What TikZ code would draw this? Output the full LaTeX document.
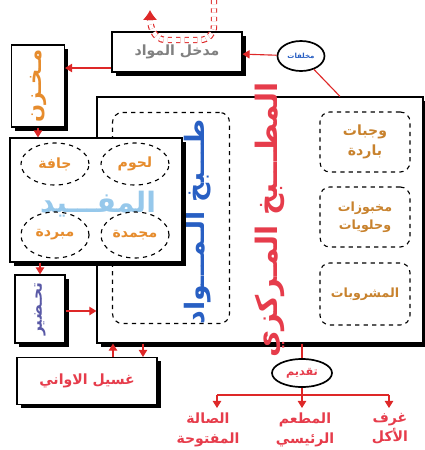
\documentclass[tikz,border=0pt]{standalone}
\usepackage{fontspec}
\newfontfamily\arabicfont[Script=Arabic]{DejaVu Sans}
\TeXXeTstate=1
\usetikzlibrary{shadows,shapes.geometric,arrows.meta}
\definecolor{arrred}{RGB}{222,40,40}
\definecolor{txtred}{RGB}{230,60,75}
\definecolor{txtorange}{RGB}{230,140,45}
\definecolor{txtbrown}{RGB}{200,130,45}
\definecolor{txtblue}{RGB}{40,95,195}
\definecolor{wmblue}{RGB}{150,200,235}
\newcommand{\artx}[1]{{\arabicfont\bfseries\beginR #1\endR}}

\begin{document}
\begin{tikzpicture}[x=0.025cm, y=-0.025cm,
    every node/.style={font=\small},
    box/.style={draw, thick, fill=white, inner sep=0pt,
      drop shadow={shadow xshift=0.09cm, shadow yshift=-0.09cm, fill=black, opacity=1}},
    dbox/.style={draw, thick, dashed, rounded corners=7pt, inner sep=0pt},
    oval/.style={ellipse, draw, very thick, fill=white, inner sep=0pt},
    dashoval/.style={ellipse, draw, thick, dashed, inner sep=0pt,
      minimum width=1.7cm, minimum height=1.05cm, text=txtorange, font=\normalsize},
    link/.style={-{Triangle[length=5pt,width=6pt]}, thick, arrred}]
  \useasboundingbox (0,0) rectangle (425,450);

  % central kitchen
  \node[box, minimum width=8.15cm, minimum height=6.15cm] (kitchen) at (260,220) {};
  \node[dbox, minimum width=2.925cm, minimum height=5.275cm] (cook) at (171,218) {};
  \node[rotate=90, text=txtblue, font=\fontsize{19}{22}\selectfont] (cooktxt) at (198,222) {\artx{طـــبخ الـمـــواد}};
  \node[rotate=90, text=txtred, font=\fontsize{21}{24}\selectfont] (title) at (270,220) {\artx{المطـــبخ المـركزي}};
  \node[dbox, minimum width=2.25cm, minimum height=1.5cm, align=center, text=txtbrown, font=\normalsize] (cold) at (365,142) {\artx{وجبات}\\[2pt]\artx{باردة}};
  \node[dbox, minimum width=2.25cm, minimum height=1.5cm, align=center, text=txtbrown] (bake) at (365,217) {\artx{مخبوزات}\\[2pt]\artx{وحلويات}};
  \node[dbox, minimum width=2.25cm, minimum height=1.55cm, text=txtbrown] (drinks) at (365,294) {\artx{المشروبات}};

  % materials entrance and waste
  \node[box, minimum width=3.25cm, minimum height=1.0cm, text=gray, font=\normalsize] (inlet) at (177,52) {\artx{مدخل المواد}};
  \node[oval, minimum width=1.175cm, minimum height=0.75cm, text=txtblue, font=\tiny] (waste) at (301,56) {\artx{مخلفات}};
  \draw[arrred, thick] (waste) -- (kitchen.north -| 340,0);
  \draw[link] (waste) -- (inlet);

  % feed arrow on top
  \coordinate (feed) at (214,0);
  \coordinate (back) at (150,10);
  \draw[arrred, dashed, double=white, double distance=3pt, thick,
    -{Latex[length=7pt,width=10pt]}]
    (feed) -- (214,26) to[out=-90,in=0] (200,40) -- (166,40) to[out=180,in=-90] (back);

  % storage
  \node[box, minimum width=1.325cm, minimum height=2.05cm] (store) at (38,86) {};
  \node[rotate=90, text=txtorange, font=\fontsize{15}{18}\selectfont] (storetxt) at (38,86) {\artx{مـخـزن}};
  \draw[link] (inlet.west |- 0,68) -- (store.east |- 0,68);

  % storage kinds
  \node[box, minimum width=4.3cm, minimum height=3.1cm] (keep) at (96,200) {};
  \node[text=wmblue, font=\fontsize{20}{24}\selectfont] (mark) at (98,204) {\artx{المفـــيد}};
  \node[dashoval] (meat) at (135,164) {\artx{لحوم}};
  \node[dashoval] (dry) at (55,164) {\artx{جافة}};
  \node[dashoval, minimum height=1.15cm] (frozen) at (135,235) {\artx{مجمدة}};
  \node[dashoval, minimum height=1.15cm] (chill) at (55,235) {\artx{مبردة}};
  \draw[link] (store.south) -- (keep.north -| store.south);

  % preparation
  \node[box, minimum width=1.25cm, minimum height=1.7cm] (prep) at (40,309) {};
  \node[rotate=90, text=gray!70!blue, font=\fontsize{11}{13}\selectfont] (preptxt) at (40,309) {\artx{تحـضير}};
  \draw[link] (keep.south -| prep.north) -- (prep.north);
  \draw[link] (prep.east |- 0,311) -- (kitchen.west |- 0,311);

  % washing
  \node[box, minimum width=3.5cm, minimum height=1.175cm, text=txtred, font=\normalsize] (wash) at (87,381) {\artx{غسيل الاواني}};
  \draw[link] (wash.north -| 113,0) -- (kitchen.south -| 113,0);
  \draw[link] (kitchen.south -| 143,0) -- (wash.north -| 143,0);

  % serving
  \node[oval, minimum width=1.5cm, minimum height=0.7cm, text=txtred, font=\footnotesize] (serve) at (302,373) {\artx{تقديم}};
  \draw[arrred, thick] (kitchen.south -| serve.north) -- (serve);
  \coordinate (fork) at (302,395);
  \draw[arrred, thick] (serve) -- (fork);
  \draw[arrred, thick] (217,395) -- (389,395);
  \node[text=txtred, align=center, anchor=north, font=\normalsize] (hall) at (208,408) {\artx{الصالة}\\[2pt]\artx{المفتوحة}};
  \node[text=txtred, align=center, anchor=north, font=\normalsize] (rest) at (305,408) {\artx{المطعم}\\[2pt]\artx{الرئيسي}};
  \node[text=txtred, align=center, anchor=north, font=\normalsize] (rooms) at (390,408) {\artx{غرف}\\[2pt]\artx{الأكل}};
  \draw[link] (217,395) -- (hall.north -| 217,0);
  \draw[link] (fork) -- (rest.north -| fork);
  \draw[link] (389,395) -- (rooms.north -| 389,0);
\end{tikzpicture}
\end{document}
